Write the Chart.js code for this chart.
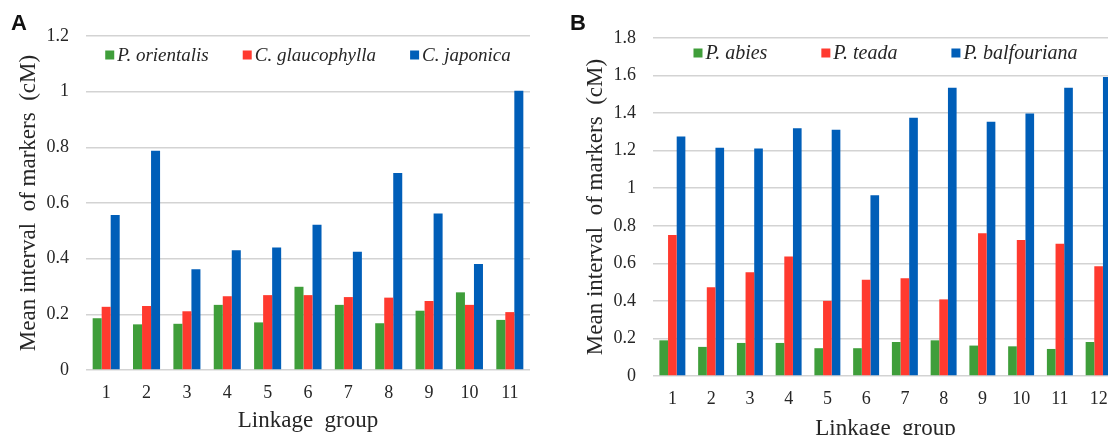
<!DOCTYPE html>
<html>
<head>
<meta charset="utf-8">
<script src="https://cdn.jsdelivr.net/npm/chart.js@4.4.1/dist/chart.umd.min.js"></script>
<style>
  html, body { margin: 0; padding: 0; background: #fff; }
  #page { position: relative; width: 1108px; height: 435px; overflow: hidden; background: #fff; }
  .panel { position: absolute; top: 0; }
  .letter { position: absolute; font: bold 22px "Liberation Sans", Arial, sans-serif; line-height: 22px; color: #111; }
</style>
</head>
<body>
<div id="page">
  <div class="panel" style="left:0;width:545px;height:435px"><canvas id="chartA" width="545" height="435"></canvas></div>
  <div class="panel" style="left:545px;width:600px;height:450px"><canvas id="chartB" width="600" height="450"></canvas></div>
  <div class="letter" style="left:11px;top:12px">A</div>
  <div class="letter" style="left:570px;top:12px">B</div>
</div>
<script>
// Panel A data
const groupsA = ['1', '2', '3', '4', '5', '6', '7', '8', '9', '10', '11'];
const orientalis = [0.186, 0.164, 0.166, 0.234, 0.171, 0.299, 0.234, 0.168, 0.213, 0.279, 0.180];
const glaucophylla = [0.227, 0.230, 0.211, 0.265, 0.269, 0.269, 0.262, 0.260, 0.248, 0.234, 0.208];
const japonica = [0.557, 0.788, 0.362, 0.430, 0.440, 0.522, 0.425, 0.708, 0.562, 0.381, 1.003];
const ticksA = [0, 0.2, 0.4, 0.6, 0.8, 1, 1.2];

// Panel B data
const groupsB = ['1', '2', '3', '4', '5', '6', '7', '8', '9', '10', '11', '12'];
const abies = [0.190, 0.155, 0.176, 0.176, 0.148, 0.148, 0.181, 0.190, 0.162, 0.158, 0.144, 0.181];
const teada = [0.751, 0.473, 0.552, 0.637, 0.400, 0.512, 0.520, 0.408, 0.760, 0.724, 0.704, 0.585];
const balfouriana = [1.275, 1.215, 1.211, 1.320, 1.311, 0.963, 1.375, 1.535, 1.354, 1.398, 1.535, 1.592];
const ticksB = [0, 0.2, 0.4, 0.6, 0.8, 1, 1.2, 1.4, 1.6, 1.8];

const GREEN = '#3f9e3a';
const RED = '#ff3a2f';
const BLUE = '#005eb8';
const SERIF = '"Liberation Serif", "Times New Roman", serif';

// legend drawn inside the plot area, just under the top gridline
const insideLegend = {
    id: 'insideLegend',
    afterDraw(chart, args, opts) {
        const ctx = chart.ctx;
        const area = chart.chartArea;
        ctx.save();
        ctx.font = 'italic ' + opts.size + 'px ' + SERIF;
        const items = chart.data.datasets.map(ds => ({
            label: ds.label,
            color: ds.backgroundColor,
            w: ctx.measureText(ds.label).width
        }));
        let total = 0;
        items.forEach((it, i) => {
            total += opts.box + opts.textGap + it.w + (i < items.length - 1 ? opts.gap : 0);
        });
        let x = (area.left + area.right) / 2 - total / 2;
        const y = area.top + opts.offsetY;
        ctx.textBaseline = 'middle';
        items.forEach(it => {
            ctx.fillStyle = it.color;
            ctx.fillRect(x, y - opts.box / 2, opts.box, opts.box);
            x += opts.box + opts.textGap;
            ctx.fillStyle = '#262626';
            ctx.fillText(it.label, x, y + 1);
            x += it.w + opts.gap;
        });
        ctx.restore();
    }
};

function makeChart(id, labels, series, names, yTicks, yMax, lay) {
    return new Chart(document.getElementById(id), {
        type: 'bar',
        data: {
            labels: labels,
            datasets: series.map((vals, i) => ({
                label: names[i],
                data: vals,
                backgroundColor: [GREEN, RED, BLUE][i],
                borderWidth: 0,
                categoryPercentage: 0.67,
                barPercentage: 1.0
            }))
        },
        options: {
            responsive: false,
            animation: false,
            layout: { padding: { top: lay.top, right: lay.right, left: 0, bottom: 0 } },
            plugins: {
                legend: { display: false },
                tooltip: { enabled: false },
                insideLegend: lay.legend
            },
            scales: {
                x: {
                    grid: { display: false, drawTicks: false },
                    border: { display: false },
                    ticks: { padding: 12, color: '#262626', font: { family: SERIF, size: 18 }, maxRotation: 0, autoSkip: false },
                    title: {
                        display: true,
                        text: 'Linkage  group',
                        color: '#262626',
                        font: { family: SERIF, size: 23 },
                        padding: { top: 0, bottom: lay.xTitleBottom }
                    },
                    afterFit: s => { s.height = lay.xHeight; }
                },
                y: {
                    min: 0,
                    max: yMax,
                    grid: { color: '#d3d3d3', lineWidth: 1.5, drawTicks: false },
                    border: { display: false },
                    ticks: {
                        padding: 17,
                        color: '#262626',
                        font: { family: SERIF, size: 18 },
                        callback: v => String(v)
                    },
                    afterBuildTicks: s => { s.ticks = yTicks.map(v => ({ value: v })); },
                    title: {
                        display: true,
                        text: 'Mean interval  of markers  (cM)',
                        color: '#262626',
                        font: { family: SERIF, size: 23 },
                        padding: { top: lay.yTitleTop, bottom: 0 }
                    },
                    afterFit: s => { s.width = lay.yWidth; }
                }
            }
        },
        plugins: [insideLegend]
    });
}

makeChart('chartA', groupsA, [orientalis, glaucophylla, japonica],
    ['P. orientalis', 'C. glaucophylla', 'C. japonica'], ticksA, 1.2,
    { top: 36, right: 15, yWidth: 86, xHeight: 65, xTitleBottom: 0, yTitleTop: 15,
      legend: { size: 19, box: 9, textGap: 3, gap: 34, offsetY: 19 } });

makeChart('chartB', groupsB, [abies, teada, balfouriana],
    ['P. abies', 'P. teada', 'P. balfouriana'], ticksB, 1.8,
    { top: 38, right: 27, yWidth: 108, xHeight: 74, xTitleBottom: 7, yTitleTop: 37,
      legend: { size: 20, box: 9, textGap: 3, gap: 54, offsetY: 15 } });
</script>
</body>
</html>
